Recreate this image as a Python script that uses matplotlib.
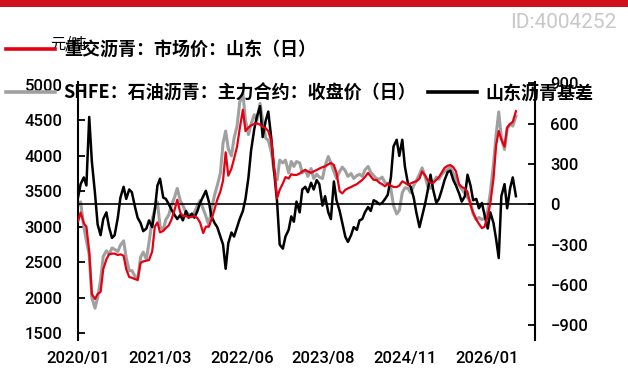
import pandas as pd
import matplotlib
matplotlib.use("Agg")
import matplotlib.pyplot as plt
from matplotlib.lines import Line2D
from matplotlib.patches import Rectangle
from matplotlib.font_manager import FontProperties

# semi-monthly readings, 2020/01 .. 2026/06
dates = pd.date_range("2020-01-01", "2026-06-01", freq="SMS")

shandong = [3070, 3200, 3050, 3000, 2650, 2050, 1980, 2050, 2080, 2400,
            2540, 2610, 2620, 2620, 2600, 2610, 2590, 2400, 2290, 2280,
            2260, 2250, 2490, 2510, 2520, 2530, 2650, 3000, 3060, 2920,
            2940, 2980, 3020, 3100, 3240, 3380, 3200, 3150, 3150, 3130,
            3140, 3150, 3120, 3060, 2910, 3000, 3000, 3100, 3250, 3380,
            3500, 3650, 4050, 3720, 3820, 3960, 4130, 4380, 4650, 4350,
            4400, 4430, 4450, 4460, 4440, 4410, 4390, 4350, 4200, 3850,
            3400, 3520, 3610, 3700, 3680, 3740, 3730, 3730, 3750, 3780,
            3800, 3780, 3760, 3780, 3800, 3820, 3840, 3850, 3880, 3900,
            3870, 3760, 3500, 3470, 3520, 3540, 3560, 3580, 3600, 3630,
            3660, 3700, 3760, 3710, 3660, 3660, 3620, 3600, 3570, 3610,
            3580, 3560, 3560, 3580, 3640, 3620, 3590, 3610, 3630, 3640,
            3680, 3780, 3720, 3650, 3620, 3620, 3660, 3700, 3770, 3830,
            3860, 3870, 3840, 3780, 3600, 3560, 3540, 3490, 3300, 3200,
            3100, 3040, 2980, 3000, 3150, 3330, 3680, 4150, 4350, 4230,
            4130, 4400, 4450, 4480, 4630]

shfe = [3300, 3350, 3000, 2800, 2600, 2000, 1850, 2000, 2250, 2580,
        2660, 2610, 2700, 2680, 2650, 2740, 2800, 2560, 2380, 2380,
        2300, 2250, 2570, 2640, 2540, 2780, 3100, 3250, 3350, 3000,
        2960, 3100, 3170, 3300, 3420, 3540, 3370, 3300, 3200, 3180,
        3150, 3200, 3300, 3370, 3250, 3150, 3020, 3250, 3450, 3580,
        3760, 4180, 4350, 4100, 4000, 4250, 4420, 4750, 4890, 4500,
        4300, 4450, 4580, 4500, 4740, 4500, 4250, 4220, 4050, 3780,
        3660, 3940, 3900, 3940, 3760, 3920, 3850, 3920, 3900, 3760,
        3800, 3710, 3820, 3680, 3740, 3700, 3680, 3860, 3990, 3900,
        3780, 3680, 3780, 3840, 3790, 3710, 3750, 3680, 3720, 3740,
        3710, 3800, 3850, 3770, 3720, 3680, 3670, 3700, 3620, 3610,
        3530, 3300, 3180, 3230, 3480, 3550, 3540, 3480, 3580, 3650,
        3740, 3830, 3700, 3560, 3540, 3620, 3700, 3670, 3740, 3780,
        3810, 3840, 3750, 3670, 3580, 3530, 3470, 3410, 3350, 3180,
        3100, 3130, 3100, 3120, 3230, 3480, 3880, 4300, 4620, 4250,
        4090, 4380, 4450, 4420, 4560]

basis = [50, 150, 200, 140, 650, 320, 80, -150, -230, -110,
         -60, -170, -250, -230, -100, 50, 130, 40, 110, 90,
         -20, -100, -140, -200, -180, -120, -170, -40, 140, 190,
         50, 40, 0, -40, -80, -110, -80, -120, -50, -100,
         -70, -100, -50, 10, 60, 100, 20, -90, -140, -170,
         -240, -300, -480, -290, -210, -240, -170, -110, -50, 40,
         200, 400, 560, 650, 730, 500, 620, 690, 480, 250,
         20, -300, -330, -240, -190, -90, -130, 20, -60, 110,
         130, 90, 160, 110, 180, 150, -10, 60, -60, -110,
         170, 30, -50, -140, -240, -280, -230, -170, -190, -120,
         -110, -60, -20, -50, 30, 20, 0, 10, 40, 70,
         200, 430, 480, 360, 480, 280, 150, 130, 50, -60,
         -170, -90, 10, 110, 220, 110, 10, 40, 110, 180,
         240, 250, 180, 140, 80, 20, 60, 220, 140, 30,
         40, -30, 10, -80, -180, -60, -140, -260, -400, 60,
         150, -30, 120, 200, 60]

tick_labels = ["2020/01", "2021/03", "2022/06", "2023/08", "2024/11", "2026/01"]

plt.rcParams['font.family'] = ['Roboto', 'Noto Sans CJK SC']
plt.rcParams['font.weight'] = 'medium'
RED = '#e60012'
GRAY = '#a0a0a0'

fig = plt.figure(figsize=(6.28, 3.76), dpi=100)
ax = fig.add_axes([78/628, 36/376, 457/628, 258/376])
ax2 = ax.twinx()

ax.plot(dates, shfe, color=GRAY, lw=2.2)
ax2.axhline(0, color='black', lw=1.2)
ax2.plot(dates, basis, color='black', lw=1.8)
# red drawn last, on the left scale
ax2.plot(dates, shandong, color=RED, lw=1.6, transform=ax.transData)

ax.set_xlim(pd.Timestamp("2020-01-01"), pd.Timestamp("2026-09-11"))
ax.set_ylim(1401, 5042)
ax2.set_ylim(-1010, 910)
ax.set_yticks(range(1500, 5001, 500))
ax2.set_yticks(range(-900, 901, 300))
xt = [pd.Timestamp("2020-01-01") + pd.Timedelta(days=438 * k) for k in range(6)]
ax.set_xticks(xt)
ax.set_xticklabels(tick_labels)

for a in (ax, ax2):
    a.spines['top'].set_visible(False)
    a.spines['bottom'].set_visible(False)
    a.spines['left'].set_linewidth(1.5)
    a.spines['right'].set_linewidth(1.5)
ax.spines['right'].set_visible(False)
ax2.spines['left'].set_visible(False)

ax.tick_params(axis='y', direction='in', length=5, width=1.3, pad=11, labelsize=12)
ax2.tick_params(axis='y', direction='in', length=5, width=1.3, pad=11, labelsize=12)
ax.tick_params(axis='x', length=0, pad=8, labelsize=12)

cjk = FontProperties(family=['Noto Sans CJK SC', 'DejaVu Sans'], size=13, weight='bold')
entries = [
    (RED, "重交沥青：市场价：山东（日）", 6, 50),
    (GRAY, "SHFE：石油沥青：主力合约：收盘价（日）", 6, 93),
    ('black', "山东沥青基差", 428, 93),
]
for col, lab, px, py in entries:
    fig.legend([Line2D([], [], color=col, lw=2.6)], [lab], loc='center left',
               bbox_to_anchor=(px / 628, 1 - py / 376), frameon=False,
               borderpad=0, borderaxespad=0, handlelength=2.7,
               handletextpad=0.5, prop=cjk)

fig.text(69/628, 1 - 44/376, "元/吨", ha='center', va='center', fontsize=11,
         family=['Noto Sans CJK SC', 'DejaVu Sans'])
fig.text(616/628, 1 - 22/376, "ID:4004252", ha='right', va='center',
         fontsize=15, color='#c8c8c8', family='Roboto', weight='normal')
fig.add_artist(Rectangle((0, 1 - 7/376), 1, 7/376, transform=fig.transFigure,
                         color='#d0101a', lw=0))

fig.savefig("out.png", dpi=100)
